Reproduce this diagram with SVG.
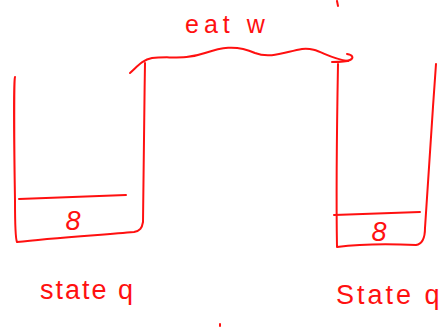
<svg xmlns="http://www.w3.org/2000/svg" width="442" height="327" viewBox="0 0 442 327">
  <style>
    .ink { fill: none; stroke: #ff1010; stroke-width: 2; stroke-linecap: round; stroke-linejoin: round; }
    .hand { fill: #ff1010; font-family: "Liberation Sans", "DejaVu Sans", sans-serif; }
    .lbl { font-size: 27px; }
    .digit { font-size: 27px; font-style: italic; }
  </style>
  <rect width="442" height="327" fill="#ffffff"/>

  <!-- stack for state p -->
  <g id="stack-p">
    <path class="ink" d="M15,77 C14,80 14,140 15,200 C15,225 15,238 17,242 C50,238 100,235 134,232 C140,231 142,228 143,222 C144,180 144,120 145,63"/>
    <path class="ink" d="M19,199 L126,195"/>
    <text class="hand digit" x="73" y="230" text-anchor="middle">8</text>
  </g>

  <!-- stack for state q -->
  <g id="stack-q">
    <path class="ink" d="M338,64 C337,120 336,190 337,247 C360,244 395,244 416,245 C423,244 425,238 425,228 C428,180 432,120 436,64"/>
    <path class="ink" d="M334,215 L420,212"/>
    <text class="hand digit" x="379" y="241" text-anchor="middle">8</text>
  </g>

  <!-- transition between the two stack tops -->
  <g id="connectors">
    <path class="ink" d="M130,73 C137,67 142,60 152,58 C168,56 185,60 205,53 C220,48 235,44 255,53 C270,59 285,52 302,49 C318,47 326,58 348,61"/>
    <path class="ink" d="M332,62 C340,62 346,62 350,60 C354,58 353,55 347,54"/>
    <text class="hand" x="185" y="33" font-size="25" letter-spacing="5">eat w</text>
  </g>

  <!-- state labels -->
  <g id="label-p">
    <text class="hand lbl" x="40" y="299" letter-spacing="2">state q</text>
  </g>
  <g id="label-q">
    <text class="hand lbl" x="336" y="304" letter-spacing="3">State q</text>
  </g>

  <!-- stray pen marks -->
  <path class="ink" d="M337,1 L338,6" stroke-width="1.5"/>
  <path class="ink" d="M220,324 L220,326" stroke-width="1.5"/>
</svg>
